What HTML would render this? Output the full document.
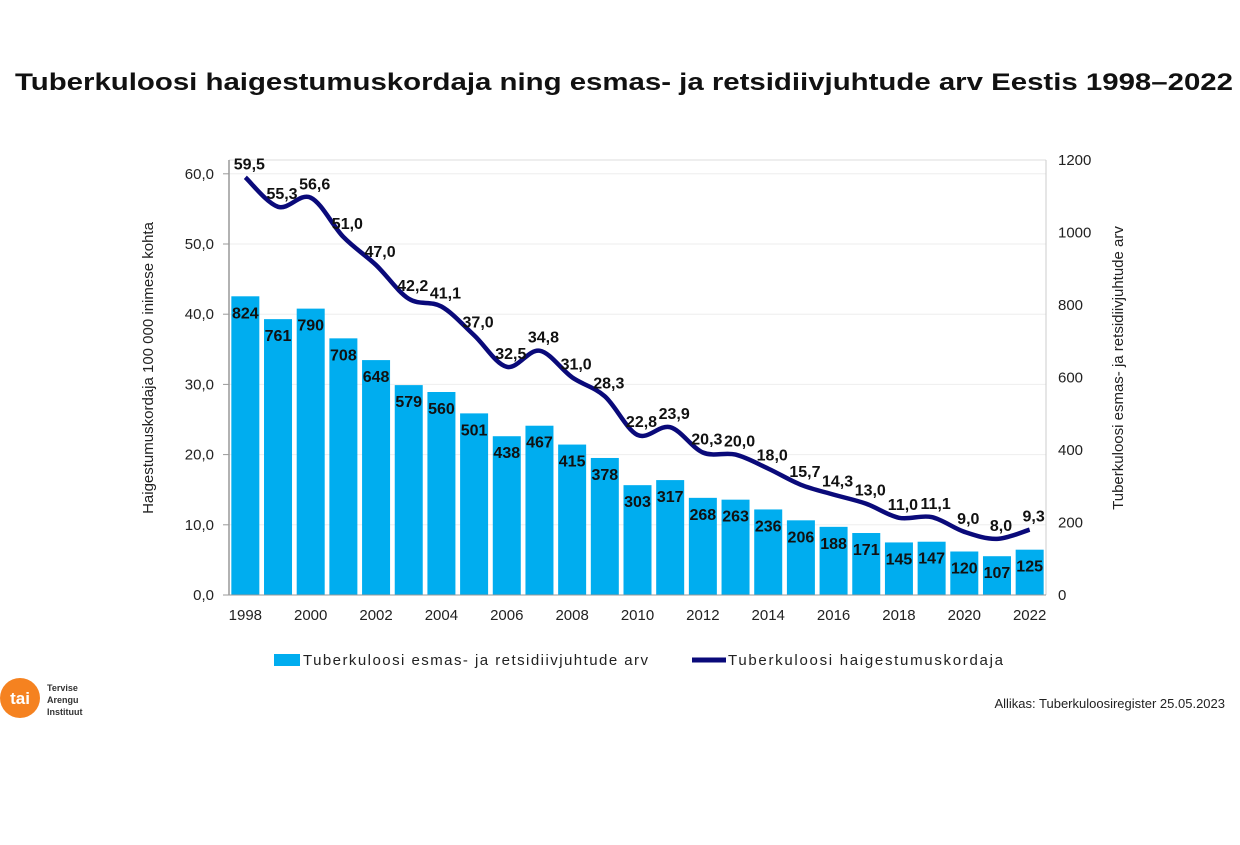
<!DOCTYPE html>
<html><head><meta charset="utf-8"><style>
body{margin:0;background:#fff;font-family:"Liberation Sans",sans-serif}
svg text{font-family:"Liberation Sans",sans-serif}
</style></head><body>
<svg width="1240" height="840" id="c">
<text x="15" y="90" textLength="1218" lengthAdjust="spacingAndGlyphs" font-size="24" font-weight="bold" fill="#111">Tuberkuloosi haigestumuskordaja ning esmas- ja retsidiivjuhtude arv Eestis 1998–2022</text>
<g id="grid"></g><g id="bars"></g><g id="line"></g><g id="axes"></g>
<text transform="translate(153,368) rotate(-90)" text-anchor="middle" font-size="15" fill="#222">Haigestumuskordaja 100 000 inimese kohta</text>
<text transform="translate(1123,368) rotate(-90)" text-anchor="middle" font-size="15" fill="#222">Tuberkuloosi esmas- ja retsidiivjuhtude arv</text>
<g>
<rect x="274" y="654" width="26" height="12" fill="#00adef"/>
<text x="303" y="665" font-size="15" textLength="345" fill="#222">Tuberkuloosi esmas- ja retsidiivjuhtude arv</text>
<line x1="692" y1="660" x2="726" y2="660" stroke="#0a0a7a" stroke-width="5"/>
<text x="728" y="665" font-size="15" textLength="275" fill="#222">Tuberkuloosi haigestumuskordaja</text>
</g>
<g>
<circle cx="20" cy="698" r="20" fill="#f58220"/>
<text x="20" y="704" text-anchor="middle" font-size="17" font-weight="bold" fill="#fff">tai</text>
<text x="47" y="691" font-size="9" font-weight="bold" fill="#333">Tervise</text>
<text x="47" y="703" font-size="9" font-weight="bold" fill="#333">Arengu</text>
<text x="47" y="715" font-size="9" font-weight="bold" fill="#333">Instituut</text>
</g>
<text x="1225" y="708" text-anchor="end" font-size="13" fill="#222">Allikas: Tuberkuloosiregister 25.05.2023</text>
</svg>
<script>
const years=[1998,1999,2000,2001,2002,2003,2004,2005,2006,2007,2008,2009,2010,2011,2012,2013,2014,2015,2016,2017,2018,2019,2020,2021,2022];
const cases=[824,761,790,708,648,579,560,501,438,467,415,378,303,317,268,263,236,206,188,171,145,147,120,107,125];
const rates=[59.5,55.3,56.6,51.0,47.0,42.2,41.1,37.0,32.5,34.8,31.0,28.3,22.8,23.9,20.3,20.0,18.0,15.7,14.3,13.0,11.0,11.1,9.0,8.0,9.3];
const leftTicks=[0,10,20,30,40,50,60];
const rightTicks=[0,200,400,600,800,1000,1200];
const NS="http://www.w3.org/2000/svg";
const X0=229,X1=1046,Y0=595,band=(X1-X0)/years.length;
const xc=i=>X0+band*(i+0.5);
const yL=v=>Y0-v*7.02;
const yR=v=>Y0-v*(435/1200);
function mk(t,a,p){const e=document.createElementNS(NS,t);for(const k in a)e.setAttribute(k,a[k]);(p||document.getElementById('c')).appendChild(e);return e;}
const grid=document.getElementById('grid'),bars=document.getElementById('bars'),line=document.getElementById('line'),axes=document.getElementById('axes');
mk('line',{x1:X0,y1:160,x2:X1,y2:160,stroke:'#ddd'},grid);
leftTicks.forEach(v=>{
 const g=mk('line',{x1:X0,y1:yL(v),x2:X1,y2:yL(v),stroke:'#eee'},grid);
 
 
 mk('line',{x1:X0-6,y1:yL(v),x2:X0,y2:yL(v),stroke:'#999'},axes);
 const t=mk('text',{x:X0-15,y:yL(v)+5,'text-anchor':'end','font-size':15,fill:'#222'},axes);
 t.textContent=v.toFixed(1).replace('.',',');
 
 
});
rightTicks.forEach(v=>{
 const t=mk('text',{x:X1+12,y:yR(v)+5,'font-size':15,fill:'#222'},axes);
 t.textContent=v;
 
 
});
mk('line',{x1:X0,y1:160,x2:X0,y2:Y0,stroke:'#999',"stroke-width":1.5},axes);
mk('line',{x1:X1,y1:160,x2:X1,y2:Y0,stroke:'#ccc'},axes);
mk('line',{x1:X0,y1:Y0,x2:X1,y2:Y0,stroke:'#999'},axes);
years.forEach((y,i)=>{
 const r=mk('rect',{x:xc(i)-14,y:yR(cases[i]),width:28,height:Y0-yR(cases[i]),fill:'#00adef'},bars);
 
 
 const t=mk('text',{x:xc(i),y:yR(cases[i])+22,'text-anchor':'middle','font-size':16,'font-weight':'bold',fill:'#111'},axes);
 t.textContent=cases[i];
 
 
 if(i%2===0){
  const l=mk('text',{x:xc(i),y:620,'text-anchor':'middle','font-size':15,fill:'#222'},axes);
  l.textContent=y;
  
  
 }
});
const pts=rates.map((v,i)=>[xc(i),yL(v)]);
let d='M'+pts[0][0]+','+pts[0][1];
for(let i=0;i<pts.length-1;i++){
 const p0=pts[Math.max(0,i-1)],p1=pts[i],p2=pts[i+1],p3=pts[Math.min(pts.length-1,i+2)];
 const c1=[p1[0]+(p2[0]-p0[0])/6,p1[1]+(p2[1]-p0[1])/6],c2=[p2[0]-(p3[0]-p1[0])/6,p2[1]-(p3[1]-p1[1])/6];
 d+=' C'+c1+' '+c2+' '+p2;
}
const path=mk('path',{d:d,fill:'none',stroke:'#0a0a7a','stroke-width':4.5,'stroke-linejoin':'round'},line);


rates.forEach((v,i)=>{
 const t=mk('text',{x:xc(i)+4,y:yL(v)-8,'text-anchor':'middle','font-size':16,'font-weight':'bold',fill:'#111'},axes);
 t.textContent=v.toFixed(1).replace('.',',');
 
 
});
</script>
</body></html>
